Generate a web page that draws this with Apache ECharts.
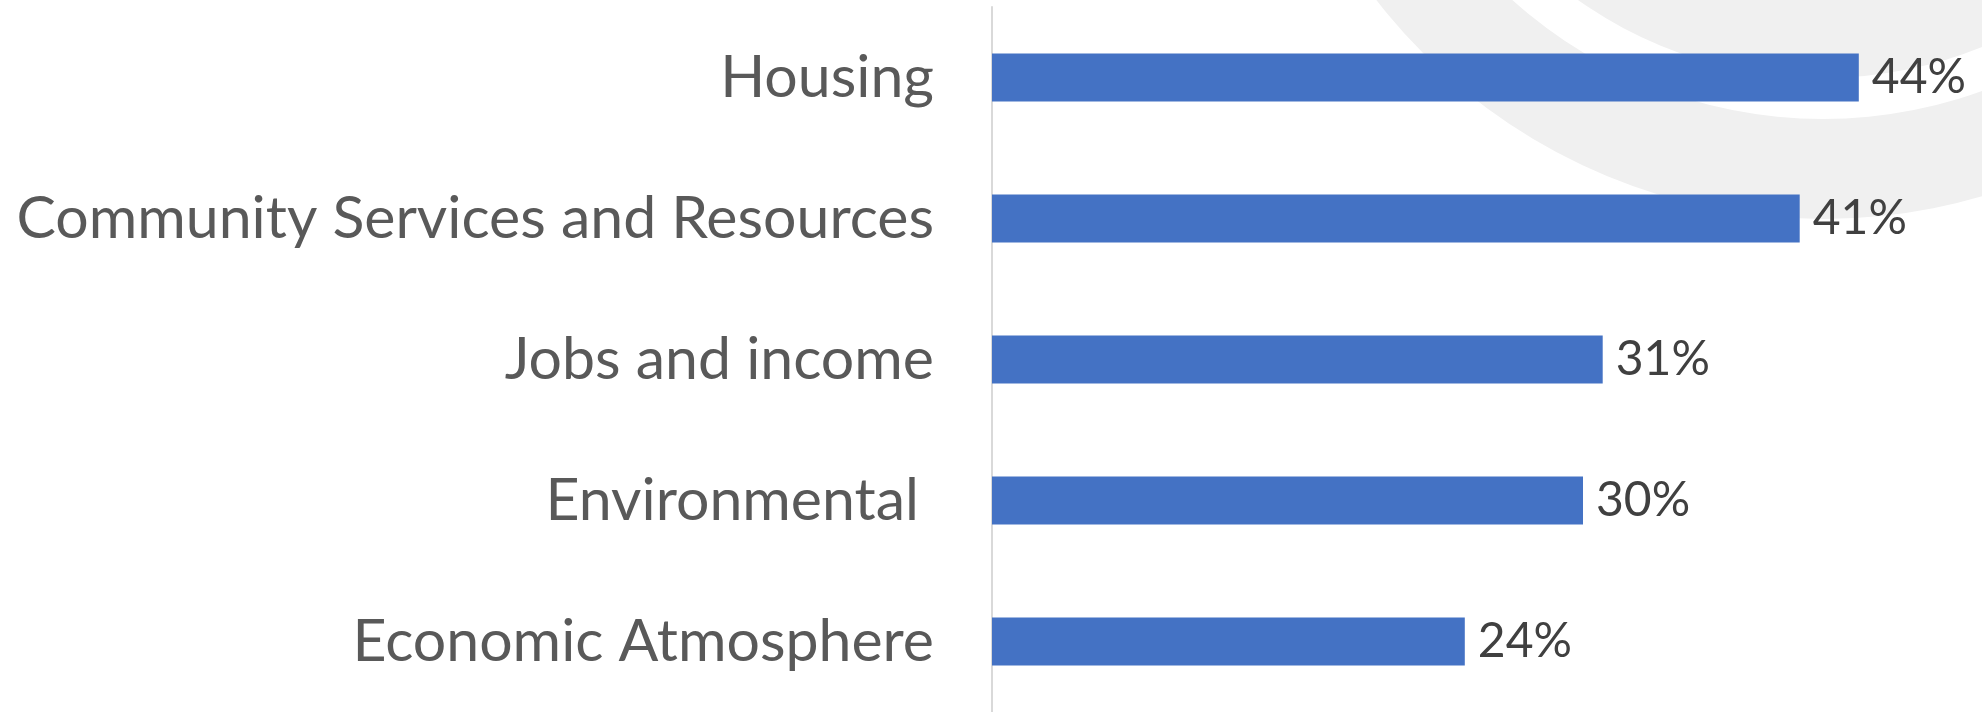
<!DOCTYPE html>
<html>
<head>
<meta charset="utf-8">
<script src="https://cdn.jsdelivr.net/npm/echarts@6/dist/echarts.min.js"></script>
<style>
  html, body { margin: 0; padding: 0; background: #fff; }
  #main { width: 1982px; height: 712px; }
</style>
</head>
<body>
<div id="main"></div>
<script>
// categories, top to bottom
var categories = ['Housing', 'Community Services and Resources', 'Jobs and income', 'Environmental ', 'Economic Atmosphere'];
// share of responses, %
var values = [44, 41, 31, 30, 24];

var myChart = echarts.init(document.getElementById('main'));

var option = {
  backgroundColor: '#ffffff',
  animation: false,
  // light grey decorative rings in the top-right corner
  graphic: [
    {
      type: 'ring', z: -10, silent: true,
      shape: { cx: 1823, cy: -346, r: 565, r0: 465 },
      style: { fill: '#f0f0f0' }
    },
    {
      type: 'ring', z: -10, silent: true,
      shape: { cx: 1823, cy: -346, r: 424, r0: 320 },
      style: { fill: '#f0f0f0' }
    }
  ],
  grid: { left: 992, top: 7, height: 709, width: 985, containLabel: false },
  xAxis: {
    type: 'value', min: 0, max: 50,
    show: false,
    splitLine: { show: false }
  },
  yAxis: {
    type: 'category',
    inverse: true,
    data: categories,
    axisLine: { show: true, lineStyle: { color: '#d9d9d9', width: 2 } },
    axisTick: { show: false },
    axisLabel: {
      margin: 58,
      fontFamily: 'Lato',
      fontSize: 59,
      color: '#595959'
    }
  },
  series: [{
    type: 'bar',
    data: values,
    barWidth: 48,
    itemStyle: { color: '#4472C4' },
    label: {
      show: true,
      position: 'right',
      distance: 13,
      formatter: '{c}%',
      fontFamily: 'Lato',
      fontSize: 48,
      color: '#404040'
    }
  }]
};

myChart.setOption(option);
</script>
</body>
</html>
